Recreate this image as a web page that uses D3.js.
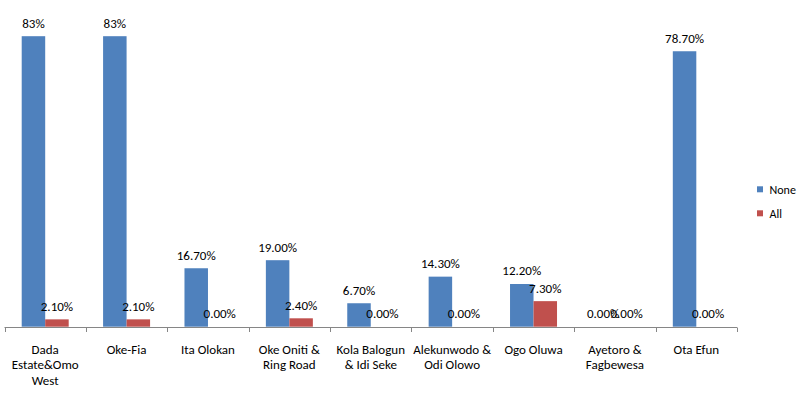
<!DOCTYPE html>
<html><head><meta charset="utf-8">
<script src="https://cdn.jsdelivr.net/npm/d3@7"></script>
<style>body{margin:0;background:#fff}svg{display:block}text{font-family:Calibri,Carlito,"Liberation Sans",Arial,sans-serif;font-size:13px;fill:#000}</style>
</head><body><svg id="c" width="804" height="399"></svg>
<script>
const categories = ["Dada Estate&Omo West","Oke-Fia","Ita Olokan","Oke Oniti & Ring Road","Kola Balogun & Idi Seke","Alekunwodo & Odi Olowo","Ogo Oluwa","Ayetoro & Fagbewesa","Ota Efun"];
const series = ["None","All"];
const noneValues = [83,83,16.7,19.0,6.7,14.3,12.2,0,78.7];
const allValues = [2.1,2.1,0,2.4,0,0,7.3,0,0];
const noneLabels = ["83%","83%","16.70%","19.00%","6.70%","14.30%","12.20%","0.00%","78.70%"];
const allLabels = ["2.10%","2.10%","0.00%","2.40%","0.00%","0.00%","7.30%","0.00%","0.00%"];
const colors = ["#4F81BD","#C0504D"];

const svg = d3.select("#c");
const x0 = d3.scaleBand().domain(categories).range([4.5,737]).paddingInner(0).paddingOuter(0);
const x1 = d3.scaleBand().domain(series).range([0,x0.bandwidth()]).paddingInner(0).paddingOuter(0.732);
const y = d3.scaleLinear().domain([0,90]).range([326.7,11.7]);
const vals = [noneValues, allValues];
const labs = [noneLabels, allLabels];

series.forEach((s,si)=>{
  const g = svg.append("g");
  g.selectAll("rect").data(categories).join("rect")
    .attr("x",c=>x0(c)+x1(s)).attr("width",x1.bandwidth())
    .attr("y",(c,i)=>y(vals[si][i])).attr("height",(c,i)=>y(0)-y(vals[si][i]))
    .attr("fill",colors[si]);
});
series.forEach((s,si)=>{
  svg.append("g").selectAll("text").data(categories).join("text")
    .attr("x",c=>x0(c)+x1(s)+x1.bandwidth()/2)
    .attr("y",(c,i)=>y(vals[si][i])-8.6)
    .attr("text-anchor","middle")
    .text((c,i)=>labs[si][i]);
});

// axis
const ax = svg.append("g").attr("transform","translate(0,327.5)");
ax.append("line").attr("x1",4.5).attr("x2",737).attr("stroke","#868686");
const bounds = categories.map(c=>x0(c)).concat([x0.range()[1]]);
ax.selectAll("line.t").data(bounds).join("line").attr("class","t")
  .attr("x1",d=>Math.round(d)+0.5).attr("x2",d=>Math.round(d)+0.5).attr("y1",0).attr("y2",4.5).attr("stroke","#868686");

// category labels with wrapping
const maxW = 80;
categories.forEach(c=>{
  const t = svg.append("text").attr("text-anchor","middle").attr("x",x0(c)+x0.bandwidth()/2).attr("y",353.5);
  const words = c.split(" ");
  let lines=[], cur=[];
  words.forEach(w=>{
    const trial = cur.concat([w]).join(" ");
    t.text(trial);
    if (cur.length && t.node().getComputedTextLength()>maxW){ lines.push(cur.join(" ")); cur=[w]; }
    else cur.push(w);
  });
  lines.push(cur.join(" "));
  t.text(null);
  lines.forEach((l,i)=>t.append("tspan").attr("x",x0(c)+x0.bandwidth()/2).attr("y",353.5+i*15.5).text(l));
});

// legend
series.forEach((s,si)=>{
  const yy = 189.3 + si*24;
  svg.append("rect").attr("x",757).attr("y",yy-3).attr("width",6).attr("height",6).attr("fill",colors[si]);
  svg.append("text").attr("x",769.5).attr("y",yy+4.2).style("font-size","12px").text(s);
});
</script></body></html>
